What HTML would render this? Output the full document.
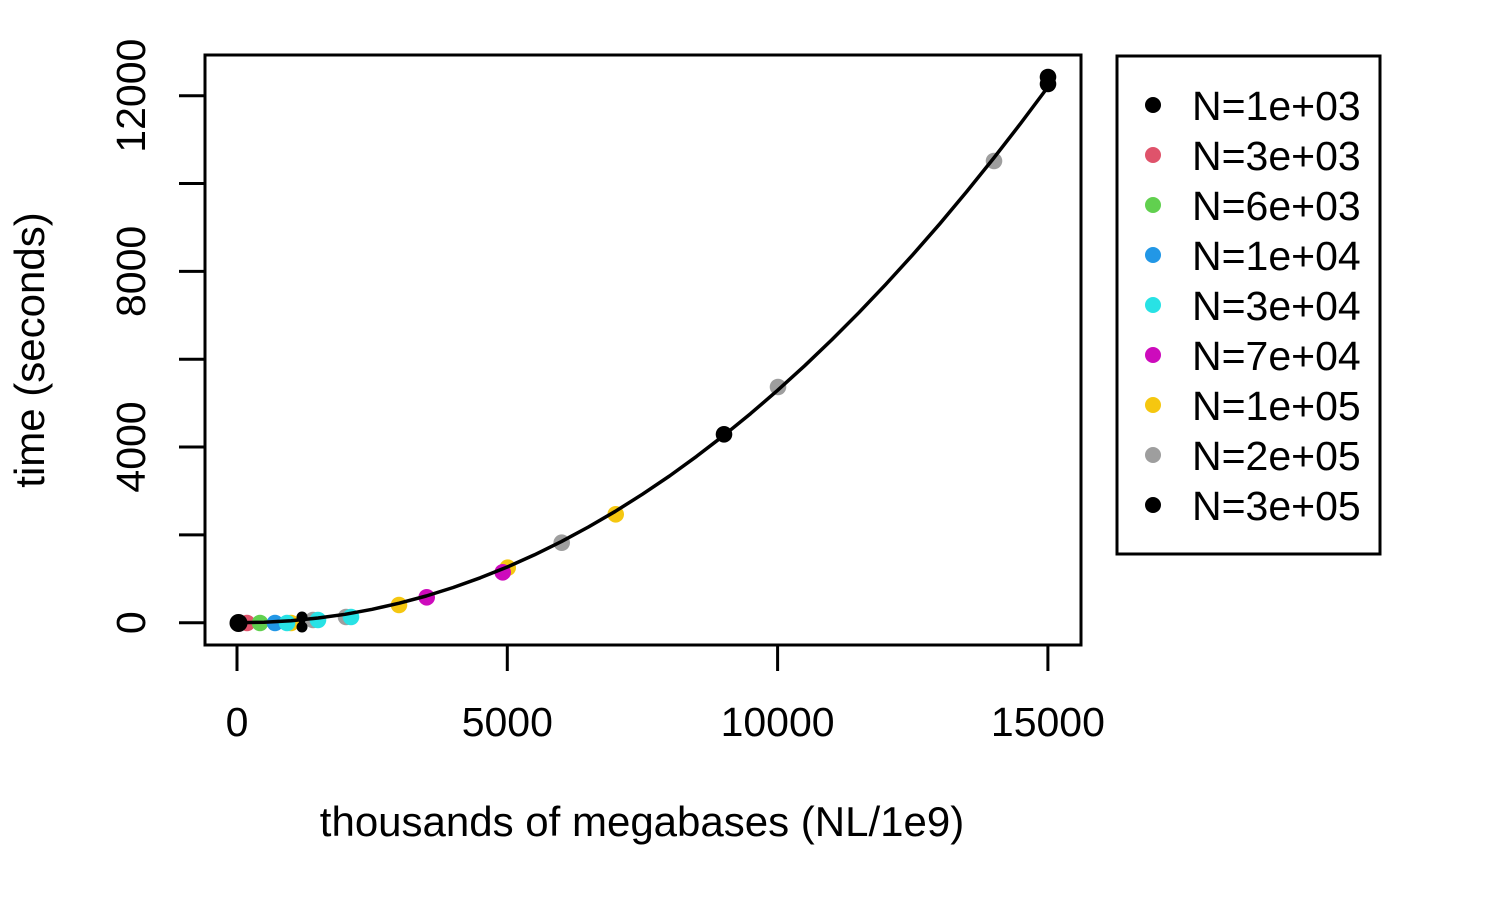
<!DOCTYPE html>
<html>
<head>
<meta charset="utf-8">
<style>
html,body{margin:0;padding:0;background:#fff;}
svg{display:block;}
text{font-family:"Liberation Sans",Arial,sans-serif;font-size:41px;fill:#000;}
</style>
</head>
<body>
<svg width="1500" height="900" viewBox="0 0 1500 900" xmlns="http://www.w3.org/2000/svg">
<rect x="0" y="0" width="1500" height="900" fill="#fff"/>
<!-- plot box -->
<rect x="205" y="55" width="876" height="590" fill="none" stroke="#000" stroke-width="3"/>
<!-- y ticks -->
<g stroke="#000" stroke-width="3">
<line x1="179" y1="622.7" x2="205" y2="622.7"/>
<line x1="179" y1="534.9" x2="205" y2="534.9"/>
<line x1="179" y1="447.0" x2="205" y2="447.0"/>
<line x1="179" y1="359.2" x2="205" y2="359.2"/>
<line x1="179" y1="271.4" x2="205" y2="271.4"/>
<line x1="179" y1="183.5" x2="205" y2="183.5"/>
<line x1="179" y1="95.7" x2="205" y2="95.7"/>
<!-- x ticks -->
<line x1="237" y1="645" x2="237" y2="671"/>
<line x1="507.3" y1="645" x2="507.3" y2="671"/>
<line x1="777.6" y1="645" x2="777.6" y2="671"/>
<line x1="1047.9" y1="645" x2="1047.9" y2="671"/>
</g>
<!-- y tick labels -->
<g text-anchor="middle">
<text transform="translate(145,622.7) rotate(-90)">0</text>
<text transform="translate(145,447.0) rotate(-90)">4000</text>
<text transform="translate(145,271.4) rotate(-90)">8000</text>
<text transform="translate(145,95.7) rotate(-90)">12000</text>
<!-- x tick labels -->
<text x="237" y="736">0</text>
<text x="507.3" y="736">5000</text>
<text x="777.6" y="736">10000</text>
<text x="1047.9" y="736">15000</text>
<!-- axis titles -->
<text x="642" y="836" style="font-size:42px">thousands of megabases (NL/1e9)</text>
<text transform="translate(44,350) rotate(-90)" style="font-size:42px">time (seconds)</text>
</g>

<!-- points -->
<g>
<circle cx="247" cy="623" r="8.3" fill="#DF536B"/>
<circle cx="260" cy="623" r="8.3" fill="#61D04F"/>
<circle cx="275" cy="623" r="8.3" fill="#2297E6"/>
<circle cx="291" cy="623" r="8.3" fill="#F5C710"/>
<circle cx="287" cy="623" r="8.3" fill="#28E2E5"/>
<circle cx="313" cy="620" r="8.3" fill="#9E9E9E"/>
<circle cx="318" cy="620" r="8.3" fill="#28E2E5"/>
<circle cx="346" cy="617" r="8.3" fill="#9E9E9E"/>
<circle cx="351" cy="617" r="8.3" fill="#28E2E5"/>
<circle cx="399" cy="605" r="8.3" fill="#F5C710"/>
<circle cx="426.7" cy="597.3" r="8.3" fill="#CD0BBC"/>
<circle cx="507.7" cy="567.7" r="8.3" fill="#F5C710"/>
<circle cx="502.7" cy="572.3" r="8.3" fill="#CD0BBC"/>
<circle cx="561.7" cy="542.7" r="8.3" fill="#9E9E9E"/>
<circle cx="615.7" cy="514.3" r="8.3" fill="#F5C710"/>
<circle cx="724" cy="434.3" r="8.3" fill="#000"/>
<circle cx="778" cy="387" r="8.3" fill="#9E9E9E"/>
<circle cx="994" cy="161" r="8.3" fill="#9E9E9E"/>
<circle cx="1048" cy="77" r="8.3" fill="#000"/>
<circle cx="1048" cy="84" r="8.3" fill="#000"/>
<circle cx="302" cy="617" r="5.5" fill="#000"/>
<circle cx="302" cy="627" r="5.5" fill="#000"/>
<rect x="299" y="617" width="6" height="10" fill="#000"/>
<circle cx="238.5" cy="623" r="9" fill="#000"/>
</g>

<!-- fitted curve -->
<polyline fill="none" stroke="#000" stroke-width="3.5" stroke-linejoin="round" points="237,622.7 264,622.2 291.1,620.7 318.1,618.0 345.1,614.3 372.2,609.3 399.2,603.2 426.2,596.0 453.2,587.5 480.3,577.8 507.3,567.0 534.3,554.9 561.4,541.6 588.4,527.0 615.4,511.3 642.5,494.2 669.5,476.0 696.5,456.4 723.5,435.7 750.6,413.6 777.6,390.3 804.6,365.8 831.7,339.9 858.7,312.8 885.7,284.4 912.8,254.7 939.8,223.8 966.8,191.5 993.8,158.0 1020.9,123.1 1047.9,87.0"/>

<!-- legend -->
<rect x="1117" y="56" width="263" height="498" fill="#fff" stroke="#000" stroke-width="3"/>
<g>
<circle cx="1153" cy="105" r="8" fill="#000"/>
<circle cx="1153" cy="155" r="8" fill="#DF536B"/>
<circle cx="1153" cy="205" r="8" fill="#61D04F"/>
<circle cx="1153" cy="255" r="8" fill="#2297E6"/>
<circle cx="1153" cy="305" r="8" fill="#28E2E5"/>
<circle cx="1153" cy="355" r="8" fill="#CD0BBC"/>
<circle cx="1153" cy="405" r="8" fill="#F5C710"/>
<circle cx="1153" cy="455" r="8" fill="#9E9E9E"/>
<circle cx="1153" cy="505" r="8" fill="#000"/>
</g>
<g style="font-size:41.5px">
<text x="1192" y="120">N=1e+03</text>
<text x="1192" y="170">N=3e+03</text>
<text x="1192" y="220">N=6e+03</text>
<text x="1192" y="270">N=1e+04</text>
<text x="1192" y="320">N=3e+04</text>
<text x="1192" y="370">N=7e+04</text>
<text x="1192" y="420">N=1e+05</text>
<text x="1192" y="470">N=2e+05</text>
<text x="1192" y="520">N=3e+05</text>
</g>
</svg>
</body>
</html>
